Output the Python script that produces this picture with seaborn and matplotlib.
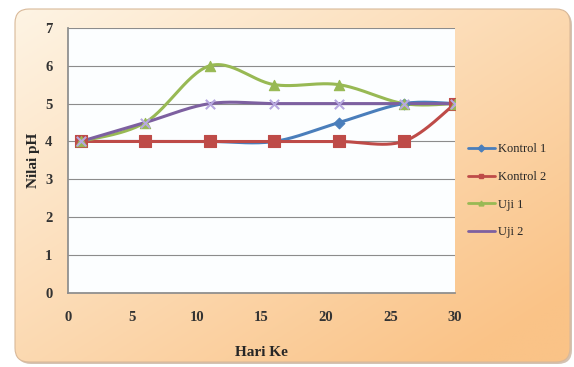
import numpy as np
import pandas as pd
import matplotlib.pyplot as plt
import seaborn as sns
from matplotlib.patches import FancyBboxPatch

# data
hari = [1, 6, 11, 16, 21, 26, 30]
kontrol_1 = [4, 4, 4, 4, 4.5, 5, 5]
kontrol_2 = [4, 4, 4, 4, 4, 4, 5]
uji_1 = [4, 4.5, 6, 5.5, 5.5, 5, 5]
uji_2 = [4, 4.5, 5, 5, 5, 5, 5]

series = ['Kontrol 1', 'Kontrol 2', 'Uji 1', 'Uji 2']
values = [kontrol_1, kontrol_2, uji_1, uji_2]
colors = ['#4A7EBB', '#BE4B48', '#98B954', '#7D60A0']
markers = ['D', 's', '^', 'x']
msizes = [30, 70, 55, 45]


def smooth(x, y, n=30):
    # Catmull-Rom style smoothing, like Excel's "smoothed line"
    x = np.asarray(x, float)
    y = np.asarray(y, float)
    px = np.r_[x[0], x, x[-1]]
    py = np.r_[y[0], y, y[-1]]
    xs, ys = [], []
    for i in range(1, len(px) - 2):
        p0, p1, p2, p3 = (np.array([px[j], py[j]]) for j in (i - 1, i, i + 1, i + 2))
        c1 = p1 + (p2 - p0) / 6
        c2 = p2 - (p3 - p1) / 6
        t = np.linspace(0, 1, n)[:, None]
        b = ((1 - t) ** 3) * p1 + 3 * ((1 - t) ** 2) * t * c1 + 3 * (1 - t) * t ** 2 * c2 + t ** 3 * p2
        xs.append(b[:, 0])
        ys.append(b[:, 1])
    return np.concatenate(xs), np.concatenate(ys)


sns.set_theme(style='white')
plt.rcParams['font.family'] = ['Liberation Serif', 'DejaVu Serif']

fig = plt.figure(figsize=(5.74, 3.67), dpi=100)
fig.patch.set_facecolor('white')

# rounded orange gradient panel behind the chart
bg = fig.add_axes([0, 0, 1, 1], zorder=-10)
bg.set_xlim(0, 574)
bg.set_ylim(367, 0)
bg.axis('off')
gx, gy = np.meshgrid(np.linspace(0, 1, 200), np.linspace(0, 1, 200))
g = np.clip(0.55 * gy + 0.55 * gx, 0, 1)
c0 = np.array([254, 244, 228]) / 255
c1 = np.array([250, 195, 135]) / 255
img = c0 + (c1 - c0) * g[..., None]
shadow = FancyBboxPatch((17, 11), 555, 353, boxstyle='round,pad=0,rounding_size=14',
                        fc='#B89A80', ec='none', alpha=0.6)
bg.add_patch(shadow)
panel = FancyBboxPatch((15, 9), 555, 353, boxstyle='round,pad=0,rounding_size=14',
                       fc='none', ec='#D9B999', lw=0.8)
bg.add_patch(panel)
im = bg.imshow(img, extent=[15, 570, 362, 9], aspect='auto', zorder=1)
im.set_clip_path(panel)
panel.set_zorder(2)

ax = fig.add_axes([0.118, 0.202, 0.675, 0.722])
ax.set_facecolor('#FCFEFF')

for name, y, c, m, s in zip(series, values, colors, markers, msizes):
    sx, sy = smooth(hari, y)
    sns.lineplot(x=sx, y=sy, ax=ax, color=c, lw=2.2, sort=False, legend=False)
    if m == 'x':
        sns.scatterplot(x=hari, y=y, ax=ax, color='#B7A8E0', marker=m, s=s,
                        linewidth=1.5, legend=False, zorder=3)
    else:
        sns.scatterplot(x=hari, y=y, ax=ax, color=c, marker=m, s=s,
                        edgecolor=c, linewidth=0.8, legend=False, zorder=3)
    ax.plot([], [], color=c, lw=2, marker=m if m != 'x' else None, ms=3.5, label=name)

ax.set_xlim(0, 30)
ax.set_ylim(0, 7)
ax.set_xticks(range(0, 31, 5))
ax.set_yticks(range(0, 8))
ax.yaxis.grid(True, color='#8C8C8C', lw=0.8)
ax.xaxis.grid(False)
for side in ['top', 'right']:
    ax.spines[side].set_visible(False)
ax.spines['left'].set_color('#8C8C8C')
ax.spines['bottom'].set_color('#8C8C8C')
ax.tick_params(axis='both', labelsize=10.5, colors='#333333', length=3, direction='out')
for lab in ax.get_xticklabels() + ax.get_yticklabels():
    lab.set_fontweight('bold')
ax.tick_params(axis='x', pad=10)
ax.tick_params(axis='y', pad=8)
ax.set_xlabel('Hari Ke', fontsize=11, fontweight='bold', labelpad=16)
ax.set_ylabel('Nilai pH', fontsize=11, fontweight='bold', labelpad=4)

ax.legend(loc='center left', bbox_to_anchor=(1.0, 0.385), frameon=False,
          fontsize=9, handlelength=2.2, handletextpad=0.2, labelspacing=1.25,
          borderaxespad=0.6)

fig.savefig('out.png', dpi=100)
